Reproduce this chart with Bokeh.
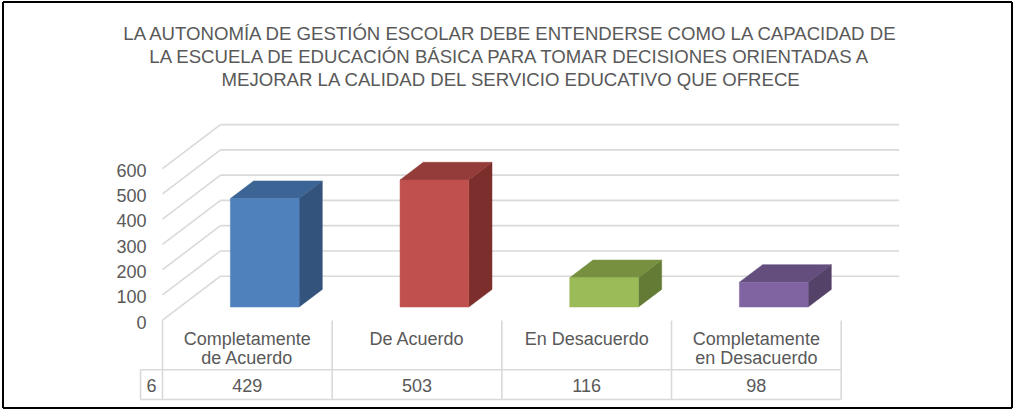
from bokeh.plotting import figure
from bokeh.models import Range1d
from bokeh.core.properties import value
from bokeh.embed import file_html
from bokeh.resources import INLINE

# ---------------- data ----------------
title_lines = [
    "LA AUTONOMÍA DE GESTIÓN ESCOLAR DEBE ENTENDERSE COMO LA CAPACIDAD DE",
    "LA ESCUELA DE EDUCACIÓN BÁSICA PARA TOMAR DECISIONES ORIENTADAS A",
    "MEJORAR LA CALIDAD DEL SERVICIO EDUCATIVO QUE OFRECE",
]
categories = ["Completamente\nde Acuerdo", "De Acuerdo", "En Desacuerdo", "Completamente\nen Desacuerdo"]
series_name = "6"
values = [429, 503, 116, 98]
y_ticks = [0, 100, 200, 300, 400, 500, 600]

front_colors = ["#4F81BD", "#C0504D", "#9BBB59", "#8064A2"]
top_colors = ["#3C6494", "#943C39", "#77903F", "#634E7E"]
side_colors = ["#33537D", "#7B2E2C", "#647B35", "#544269"]

# ---------------- layout (pixels) ----------------
W, H = 1013, 409
X0 = 162.0          # front-left corner of the floor
CAT_PX = 169.675    # width of one category
Y0 = 319.7          # front zero line
VAL_PX = 0.2527     # pixels per value unit
DEPTH_DX, DEPTH_DY = 58.0, 44.0
BAR_HALF = 0.2025
F0, F1 = 0.3, 0.7

TXT = "#595959"
GRID = "#D9D9D9"
FONT = value("Liberation Sans")


def dx(px):
    return (px - X0) / CAT_PX


def dy(py):
    return (Y0 - py) / VAL_PX


DDX = DEPTH_DX / CAT_PX
DDY = DEPTH_DY / VAL_PX
N = len(values)

p = figure(width=W, height=H,
           x_range=Range1d(dx(0), dx(W)),
           y_range=Range1d(dy(H), dy(0)),
           output_backend="svg", toolbar_location=None, min_border=0)
p.axis.visible = False
p.grid.visible = False
p.outline_line_color = None
p.background_fill_color = "white"

# outer chart border
p.segment(x0=[dx(2.5), dx(2.5), dx(2.5), dx(W - 1.5)],
          y0=[dy(1.5), dy(H - 1.5), dy(1.5), dy(1.5)],
          x1=[dx(W - 1.5), dx(W - 1.5), dx(2.5), dx(W - 1.5)],
          y1=[dy(1.5), dy(H - 1.5), dy(H - 1.5), dy(H - 1.5)],
          line_color="black", line_width=2)

# gridlines: side wall diagonals + back wall horizontals
gx0, gy0, gx1, gy1 = [], [], [], []
for v in y_ticks:
    gx0 += [0, DDX]
    gy0 += [v, v + DDY]
    gx1 += [DDX, N + DDX]
    gy1 += [v + DDY, v + DDY]
p.segment(x0=gx0, y0=gy0, x1=gx1, y1=gy1, line_color=GRID, line_width=1.6)

# bars
fxs, fys, txs, tys, sxs, sys_ = [], [], [], [], [], []
d_x = (F1 - F0) * DDX
d_y = (F1 - F0) * DDY
for i, v in enumerate(values):
    c = i + 0.5
    L = c - BAR_HALF + F0 * DDX
    R = c + BAR_HALF + F0 * DDX
    B = F0 * DDY
    T = v + F0 * DDY
    fxs.append([L, R, R, L]); fys.append([B, B, T, T])
    txs.append([L, R, R + d_x, L + d_x]); tys.append([T, T, T + d_y, T + d_y])
    sxs.append([R, R + d_x, R + d_x, R]); sys_.append([B, B + d_y, T + d_y, T])

p.patches(sxs, sys_, fill_color=side_colors, line_color=side_colors, line_width=0.5)
p.patches(txs, tys, fill_color=top_colors, line_color=top_colors, line_width=0.5)
p.patches(fxs, fys, fill_color=front_colors, line_color=front_colors, line_width=0.5)

# y tick labels (front plane)
LBL_SHIFT = 1.8 / VAL_PX
p.text(x=[dx(146)] * len(y_ticks), y=[v - LBL_SHIFT for v in y_ticks],
       text=[str(v) for v in y_ticks],
       text_align="right", text_baseline="middle", text_font=FONT,
       text_font_size="18px", text_color=TXT)

# data table lines
tx0, ty0, tx1, ty1 = [], [], [], []
for k in range(N + 1):
    tx0.append(k); ty0.append(dy(320)); tx1.append(k); ty1.append(dy(399))
for yy in (369.3, 399):
    tx0.append(dx(140)); ty0.append(dy(yy)); tx1.append(N); ty1.append(dy(yy))
tx0.append(dx(140)); ty0.append(dy(369.3)); tx1.append(dx(140)); ty1.append(dy(399))
p.segment(x0=tx0, y0=ty0, x1=tx1, y1=ty1, line_color=GRID, line_width=1.6)

# category labels
lx, ly, lt = [], [], []
for i, cat in enumerate(categories):
    for k, line in enumerate(cat.split("\n")):
        lx.append(i + 0.5); ly.append(dy(338 + 19.5 * k)); lt.append(line)
p.text(x=lx, y=ly, text=lt, text_align="center", text_baseline="middle",
       text_font=FONT, text_font_size="18px", text_color=TXT)

# values row
p.text(x=[i + 0.5 for i in range(N)], y=[dy(384.5)] * N, text=[str(v) for v in values],
       text_align="center", text_baseline="middle", text_font=FONT,
       text_font_size="18px", text_color=TXT)
p.text(x=[dx(151)], y=[dy(384.5)], text=[series_name], text_align="center",
       text_baseline="middle", text_font=FONT, text_font_size="18px", text_color=TXT)

# title
p.text(x=[dx(511)] * 3, y=[dy(32.5), dy(55.5), dy(78.5)], text=title_lines,
       text_align="center", text_baseline="middle", text_font=FONT,
       text_font_size="18.6px", text_color=TXT)

open("out.html", "w").write(file_html(p, INLINE))
